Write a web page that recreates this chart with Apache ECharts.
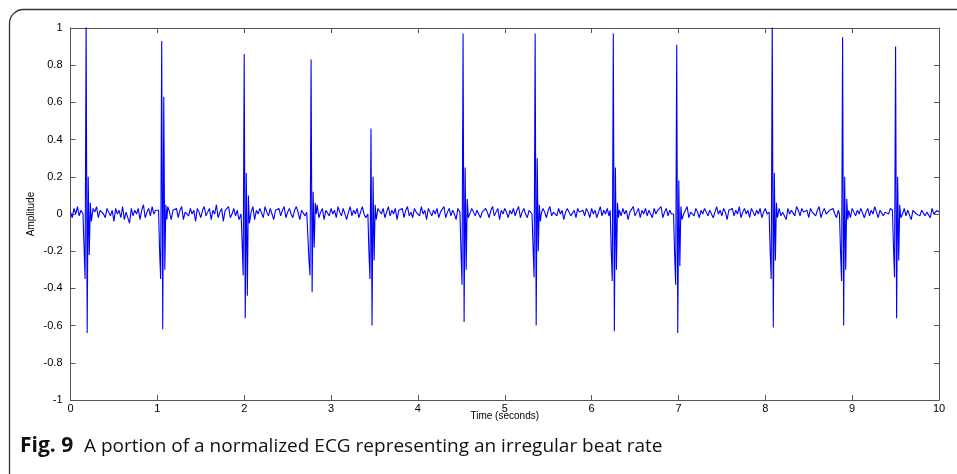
<!DOCTYPE html>
<html>
<head>
<meta charset="utf-8">
<script src="https://cdn.jsdelivr.net/npm/echarts@6/dist/echarts.min.js"></script>
<style>html,body{margin:0;padding:0;background:#fff}#c{width:957px;height:474px}</style>
</head>
<body>
<div id="c"></div>
<script>
// Time axis ticks (seconds) and amplitude ticks
const xTicks = [0,1,2,3,4,5,6,7,8,9,10];
const yTicks = [-1,-0.8,-0.6,-0.4,-0.2,0,0.2,0.4,0.6,0.8,1];

// Baseline samples every 0.02 s from 0 to 10 s (501 values)
const baseStep = 0.02;
const baseline = [
0.01,-0.02,0.03,0.00,0.04,-0.01,0.02,0.03,-0.03,0.01,
0.02,0.00,-0.03,0.03,0.01,0.04,-0.02,0.02,0.03,0.00,
-0.02,0.03,0.01,-0.01,0.02,-0.04,0.03,0.00,0.02,-0.02,
0.04,-0.03,0.01,0.02,-0.05,0.03,-0.01,0.02,0.00,0.03,
-0.03,0.02,0.05,-0.02,0.01,0.03,-0.01,0.04,0.00,0.02,
0.03,-0.02,0.01,0.00,0.02,-0.01,0.04,0.01,-0.03,0.02,
0.01,0.03,-0.02,0.02,0.04,-0.03,0.01,0.02,-0.01,0.03,
0.00,0.02,-0.04,0.03,0.01,-0.02,0.02,0.04,-0.01,0.01,
0.03,-0.03,0.02,0.00,0.05,-0.02,0.01,0.03,-0.04,0.02,
0.01,0.04,-0.02,0.00,0.03,-0.01,0.02,-0.03,0.04,0.01,
-0.02,0.02,0.03,-0.01,0.01,0.04,-0.03,0.02,0.00,0.03,
0.02,-0.02,0.04,0.01,-0.01,0.03,0.00,-0.03,0.02,0.01,
0.03,-0.01,0.02,0.04,-0.02,0.01,0.03,0.00,-0.02,0.02,
0.04,0.01,-0.03,0.02,0.03,-0.01,0.01,0.02,-0.02,0.03,
0.00,0.02,0.05,-0.02,0.01,0.03,-0.03,0.02,0.01,-0.01,
0.03,0.00,0.02,-0.02,0.04,0.01,-0.01,0.03,0.02,-0.03,
0.01,0.04,-0.01,0.02,0.00,0.03,-0.02,0.01,0.04,0.00,
-0.02,0.02,0.03,-0.01,0.02,0.01,-0.04,0.03,0.02,0.00,
0.03,-0.02,0.01,0.04,-0.01,0.02,0.00,0.03,-0.03,0.02,
0.01,0.03,-0.02,0.02,0.04,-0.01,0.01,-0.02,0.03,0.01,
0.02,-0.01,0.04,0.00,0.02,-0.03,0.03,0.01,-0.01,0.02,
0.00,0.03,-0.02,0.01,0.02,0.04,-0.02,0.01,0.03,-0.01,
0.02,0.00,-0.03,0.03,0.01,0.02,-0.01,0.04,0.00,0.02,
-0.02,0.03,0.01,-0.01,0.02,0.03,-0.02,0.01,0.00,0.03,
0.01,-0.02,0.02,0.04,-0.01,0.01,0.03,-0.03,0.02,0.00,
0.03,0.01,-0.02,0.02,0.00,0.03,-0.01,0.02,0.04,-0.02,
0.01,0.03,0.00,-0.02,0.02,0.01,0.03,-0.01,0.02,-0.03,
0.02,0.00,0.03,0.01,-0.02,0.02,0.04,-0.01,0.01,0.02,
-0.01,0.03,0.00,0.02,-0.03,0.01,0.03,0.02,-0.01,0.00,
0.02,-0.02,0.03,0.01,0.00,0.02,-0.01,0.03,0.01,-0.02,
0.03,0.00,0.02,-0.02,0.01,0.04,-0.01,0.02,0.00,0.03,
-0.01,0.02,0.01,0.03,-0.02,0.01,0.02,-0.01,0.03,0.00,
0.02,-0.03,0.01,0.02,0.04,-0.01,0.01,0.03,-0.02,0.02,
0.00,0.03,-0.01,0.02,0.01,-0.02,0.03,0.00,0.02,0.01,
0.04,-0.02,0.01,0.03,-0.01,0.02,0.00,-0.03,0.03,0.01,
0.02,-0.01,0.03,0.00,0.02,0.04,-0.02,0.01,0.02,-0.01,
0.03,0.01,-0.02,0.02,0.00,0.03,0.01,-0.01,0.02,0.03,
-0.02,0.01,0.04,0.00,0.02,-0.01,0.03,0.01,-0.03,0.02,
0.01,0.03,-0.01,0.02,0.00,0.04,-0.02,0.01,0.03,0.00,
0.02,-0.02,0.03,0.01,-0.01,0.02,0.00,0.03,-0.02,0.01,
0.03,0.00,0.02,-0.01,0.04,0.01,-0.02,0.02,0.03,-0.01,
0.01,0.02,-0.03,0.03,0.00,0.02,0.01,-0.01,0.04,0.02,
-0.01,0.03,0.01,0.00,0.02,-0.02,0.03,0.01,0.02,-0.01,
0.02,0.04,-0.02,0.01,0.03,0.00,-0.01,0.02,0.01,0.03,
0.00,-0.02,0.02,0.03,-0.01,0.01,0.04,0.00,0.02,-0.02,
0.03,0.01,-0.01,0.02,0.00,0.03,0.02,-0.02,0.01,0.03,
-0.01,0.02,0.00,0.04,0.01,-0.02,0.02,0.03,-0.01,0.01,
0.02,0.00,0.03,-0.02,0.01,0.02,0.04,-0.01,0.02,0.00,
0.03,-0.01,0.02,0.01,-0.03,0.02,0.03,0.00,0.01,-0.01,
0.02,0.03,-0.01,0.01,0.02,-0.02,0.03,0.00,0.01,0.02,
0.01
];

// QRS complexes: peak times and sample values at fixed offsets around each peak
const beatOffsets = [-0.036,-0.024,-0.012,0,0.012,0.024,0.036,0.048,0.06];
const beatTimes = [0.18,1.05,2.0,2.77,3.46,4.52,5.35,6.25,6.98,8.08,8.89,9.50];
const beatValues = [
  [0.00,-0.18,-0.35,1.05,-0.64,0.20,-0.22,0.06,-0.04],
  [0.02,-0.20,-0.35,0.93,-0.62,0.63,-0.30,0.05,-0.03],
  [0.00,-0.15,-0.33,0.86,-0.56,0.22,-0.44,0.10,-0.05],
  [0.02,-0.25,-0.33,0.83,-0.42,0.12,-0.18,0.06,0.00],
  [0.00,-0.20,-0.35,0.46,-0.60,0.20,-0.25,0.05,-0.03],
  [0.01,-0.20,-0.38,0.97,-0.58,0.25,-0.30,0.08,-0.02],
  [0.00,-0.18,-0.34,0.97,-0.60,0.30,-0.20,0.05,-0.04],
  [0.02,-0.20,-0.36,0.97,-0.63,0.25,-0.30,0.06,-0.02],
  [0.00,-0.22,-0.38,0.91,-0.64,0.18,-0.28,0.04,-0.03],
  [0.01,-0.20,-0.35,1.05,-0.61,0.22,-0.25,0.06,-0.02],
  [0.00,-0.20,-0.36,0.95,-0.60,0.20,-0.30,0.08,-0.03],
  [0.02,-0.18,-0.34,0.90,-0.56,0.20,-0.25,0.05,-0.02]
];

// Merge baseline samples with the QRS samples
const pts = [];
baseline.forEach((v, i) => {
  const t = +(i * baseStep).toFixed(3);
  const inBeat = beatTimes.some(b => t > b + beatOffsets[0] - 0.005 && t < b + beatOffsets[beatOffsets.length-1] + 0.005);
  if (!inBeat) pts.push([t, v]);
});
beatTimes.forEach((b, k) => {
  beatOffsets.forEach((o, j) => pts.push([+(b + o).toFixed(4), beatValues[k][j]]));
});
pts.sort((a, b) => a[0] - b[0]);

const axisColor = '#555';
const chart = echarts.init(document.getElementById('c'), null, {renderer: 'canvas'});
chart.setOption({
  animation: false,
  backgroundColor: '#fff',
  grid: {left: 70.5, right: 18, top: 28, bottom: 74, show: false},
  xAxis: [
    {type: 'value', min: 0, max: 10, interval: 1, position: 'bottom',
     axisLine: {show: true, onZero: false, lineStyle: {color: axisColor, width: 1}},
     axisTick: {show: true, inside: true, length: 5, lineStyle: {color: axisColor}},
     axisLabel: {color: '#000', fontSize: 11, fontFamily: 'Liberation Sans', margin: 3},
     splitLine: {show: false},
     name: 'Time (seconds)', nameLocation: 'middle', nameGap: 11, nameMoveOverlap: false,
     nameTextStyle: {color: '#000', fontSize: 10, fontFamily: 'Liberation Sans', verticalAlign: 'top'}},
    {type: 'value', min: 0, max: 10, interval: 1, position: 'top',
     axisLine: {show: true, onZero: false, lineStyle: {color: axisColor, width: 1}},
     axisTick: {show: true, inside: true, length: 5, lineStyle: {color: axisColor}},
     axisLabel: {show: false}, splitLine: {show: false}}
  ],
  yAxis: [
    {type: 'value', min: -1, max: 1, interval: 0.2, position: 'left',
     axisLine: {show: true, onZero: false, lineStyle: {color: axisColor, width: 1}},
     axisTick: {show: true, inside: true, length: 5, lineStyle: {color: axisColor}},
     axisLabel: {color: '#000', fontSize: 11, fontFamily: 'Liberation Sans', margin: 8,
       formatter: v => String(Math.round(v * 10) / 10)},
     splitLine: {show: false},
     name: 'Amplitude', nameLocation: 'middle', nameGap: 34, nameRotate: 90, nameMoveOverlap: false,
     nameTextStyle: {color: '#000', fontSize: 10, fontFamily: 'Liberation Sans'}},
    {type: 'value', min: -1, max: 1, interval: 0.2, position: 'right',
     axisLine: {show: true, onZero: false, lineStyle: {color: axisColor, width: 1}},
     axisTick: {show: true, inside: true, length: 5, lineStyle: {color: axisColor}},
     axisLabel: {show: false}, splitLine: {show: false}}
  ],
  series: [{
    type: 'line', xAxisIndex: 0, yAxisIndex: 0, data: pts,
    showSymbol: false, symbol: 'none', clip: true,
    lineStyle: {color: '#0000ff', width: 1.1}
  }],
  graphic: [
    {type: 'rect', left: 7, top: 7, silent: true,
     shape: {x: 0, y: 0, width: 1000, height: 480, r: 14},
     style: {fill: null, stroke: '#333', lineWidth: 1.3}, z: -1},
    {type: 'text', left: 20, top: 436, silent: true,
     style: {text: 'Fig. 9', fontFamily: 'Open Sans', fontWeight: 'bold', fontSize: 21, fill: '#111'}},
    {type: 'text', left: 84, top: 437, silent: true,
     style: {text: 'A portion of a normalized ECG representing an irregular beat rate',
       fontFamily: 'Open Sans', fontSize: 19, fill: '#111'}}
  ]
});
</script>
</body>
</html>
